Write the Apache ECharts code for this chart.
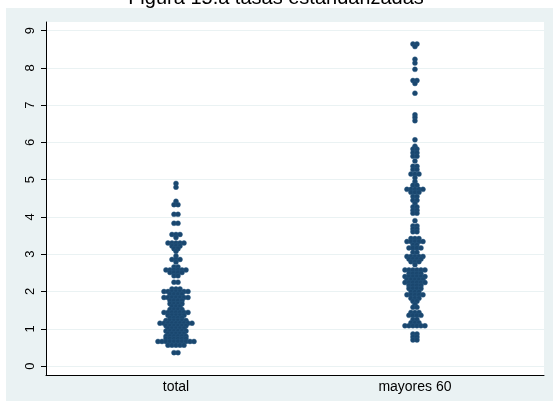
<!DOCTYPE html>
<html>
<head>
<meta charset="utf-8">
<script src="https://cdn.jsdelivr.net/npm/echarts@6/dist/echarts.min.js"></script>
<style>
  html, body { margin: 0; padding: 0; background: #ffffff; }
  #chart { width: 553px; height: 401px; }
</style>
</head>
<body>
<div id="chart"></div>
<script>
// Group labels along the horizontal axis
const groupNames = ['total', 'mayores 60'];

// Standardised rates, one value per observation
const totalRates = [
  4.90, 4.80,
  4.42, 4.33, 4.33,
  4.07, 4.07,
  3.83, 3.83,
  3.53, 3.53, 3.53, 3.45,
  3.30, 3.30, 3.30, 3.30, 3.30,
  3.22, 3.22, 3.22, 3.15, 3.15, 3.08,
  2.95, 2.86, 2.86, 2.86, 2.79,
  2.66, 2.66, 2.58, 2.58, 2.58, 2.58, 2.58, 2.58,
  2.51, 2.51, 2.51, 2.51, 2.42, 2.42,
  2.25, 2.25,
  2.07, 2.07, 2.07,
  2.00, 2.00, 2.00, 2.00, 2.00, 2.00, 2.00,
  1.93, 1.93, 1.93, 1.93,
  1.84, 1.84, 1.84, 1.84, 1.84, 1.84, 1.84,
  1.76, 1.76, 1.76, 1.76,
  1.67, 1.67, 1.67, 1.67,
  1.60, 1.60, 1.60,
  1.52, 1.52, 1.52, 1.52,
  1.44, 1.44, 1.44, 1.44, 1.44, 1.44, 1.44,
  1.36, 1.36, 1.36, 1.36, 1.36,
  1.29, 1.29, 1.29, 1.29,
  1.22, 1.22, 1.22, 1.22, 1.22, 1.22,
  1.15, 1.15, 1.15, 1.15, 1.15, 1.15, 1.15, 1.15, 1.15,
  1.08, 1.08, 1.08, 1.08, 1.08, 1.08,
  1.01, 1.01, 1.01, 1.01, 1.01,
  0.94, 0.94, 0.94, 0.94, 0.94, 0.94,
  0.87, 0.87, 0.87, 0.87, 0.87,
  0.80, 0.80, 0.80, 0.80, 0.80, 0.80,
  0.73, 0.73, 0.73, 0.73, 0.73, 0.73,
  0.66, 0.66, 0.66, 0.66, 0.66, 0.66, 0.66, 0.66, 0.66, 0.66,
  0.56, 0.56, 0.56, 0.56, 0.56,
  0.36, 0.36
];

const mayoresRates = [
  8.64, 8.64, 8.57,
  8.23, 8.13, 7.96,
  7.66, 7.66, 7.58,
  7.32,
  6.74, 6.67, 6.58,
  6.07, 5.90, 5.82, 5.82, 5.72, 5.72, 5.63, 5.63, 5.50,
  5.36, 5.36, 5.27, 5.27, 5.15, 5.15, 5.15, 5.05, 4.95,
  4.85, 4.85, 4.74, 4.74, 4.74, 4.74, 4.74, 4.66, 4.66, 4.66,
  4.55, 4.55, 4.45, 4.45, 4.36, 4.27, 4.27, 4.18, 4.18, 4.10, 4.10,
  3.90, 3.76, 3.76, 3.68, 3.68, 3.60, 3.60,
  3.42, 3.42, 3.42, 3.34, 3.34, 3.34, 3.34, 3.34,
  3.25, 3.25, 3.17, 3.17, 3.17, 3.17, 3.05, 3.05,
  2.94, 2.94, 2.94, 2.94, 2.94, 2.87, 2.87, 2.87, 2.87,
  2.80, 2.80, 2.80, 2.72,
  2.58, 2.58, 2.58, 2.58, 2.58, 2.58,
  2.48, 2.48, 2.48, 2.48,
  2.40, 2.40, 2.40, 2.40, 2.40, 2.40,
  2.32, 2.32, 2.32, 2.32, 2.32,
  2.24, 2.24, 2.24, 2.24, 2.24, 2.24,
  2.16, 2.16, 2.16, 2.16, 2.08, 2.08, 2.08, 2.08,
  1.99, 1.99, 1.99, 1.91, 1.91, 1.91, 1.91, 1.91,
  1.82, 1.82, 1.82, 1.74, 1.74, 1.65, 1.58, 1.58,
  1.44, 1.44, 1.44, 1.36, 1.36, 1.36, 1.36,
  1.25, 1.25, 1.16, 1.16, 1.16,
  1.08, 1.08, 1.08, 1.08, 1.08, 1.08,
  0.86, 0.86, 0.78, 0.78, 0.70, 0.70
];

// Y axis tick values
const yTicks = [0, 1, 2, 3, 4, 5, 6, 7, 8, 9];

// Horizontal axis range around the two group positions (1 and 2)
const xMin = 0.456, xMax = 2.54;
const yMin = -0.24, yMax = 9.23;
const gridLeft = 46, gridRight = 9, gridTop = 22, gridBottom = 26;
const plotWidth = 553 - gridLeft - gridRight;
const dotGapPx = 4;   // centre-to-centre gap between dots sharing a row
const dotGap = dotGapPx * (xMax - xMin) / plotWidth;

// Dot plot layout: observations with the same value share a row,
// spread side by side and centred on the group position.
function dotRows(values, center) {
  const rows = new Map();
  values.forEach(v => {
    const key = v.toFixed(2);
    rows.set(key, (rows.get(key) || 0) + 1);
  });
  const pts = [];
  rows.forEach((n, key) => {
    const v = parseFloat(key);
    for (let k = 0; k < n; k++) {
      pts.push([center + (k - (n - 1) / 2) * dotGap, v]);
    }
  });
  return pts;
}

const points = dotRows(totalRates, 1).concat(dotRows(mayoresRates, 2));

const chart = echarts.init(document.getElementById('chart'), null, { renderer: 'canvas' });

chart.setOption({
  animation: false,
  backgroundColor: '#ffffff',
  graphic: [
    {
      type: 'rect', z: -10, silent: true,
      shape: { x: 6, y: 8, width: 547, height: 393 },
      style: { fill: '#eaf2f3' }
    },
    {
      type: 'rect', z: -9, silent: true,
      shape: { x: gridLeft, y: gridTop, width: plotWidth, height: 401 - gridTop - gridBottom },
      style: { fill: '#ffffff' }
    },
    {
      type: 'text', z: 10, silent: true,
      style: {
        text: 'Figura 15.a tasas estandarizadas',
        x: 276, y: -2,
        align: 'center', verticalAlign: 'middle',
        fontFamily: 'Liberation Sans, Arial, sans-serif',
        fontSize: 20,
        fill: '#000000'
      }
    }
  ],
  grid: { left: gridLeft, right: gridRight, top: gridTop, bottom: gridBottom, containLabel: false },
  xAxis: {
    type: 'value',
    min: xMin, max: xMax,
    axisLine: { show: true, onZero: false, lineStyle: { color: '#000000', width: 1 } },
    axisTick: { show: false },
    splitLine: { show: false },
    axisLabel: {
      customValues: [1, 2],
      formatter: v => groupNames[Math.round(v) - 1],
      color: '#000000',
      fontFamily: 'Liberation Sans, Arial, sans-serif',
      fontSize: 14,
      margin: 5
    }
  },
  yAxis: {
    type: 'value',
    min: yMin, max: yMax,
    axisLine: { show: true, onZero: false, lineStyle: { color: '#000000', width: 1 } },
    axisTick: { show: true, customValues: yTicks, length: 5, lineStyle: { color: '#000000' } },
    splitLine: { show: true, lineStyle: { color: '#eaf2f3', width: 1 } },
    axisLabel: {
      customValues: yTicks,
      rotate: 90,
      color: '#000000',
      fontFamily: 'Liberation Sans, Arial, sans-serif',
      fontSize: 13,
      margin: 9
    }
  },
  series: [{
    type: 'scatter',
    data: points,
    symbol: 'circle',
    symbolSize: 5,
    itemStyle: { color: '#1a476f', borderColor: '#2b5a84', borderWidth: 0.4, opacity: 1 }
  }]
});
</script>
</body>
</html>
